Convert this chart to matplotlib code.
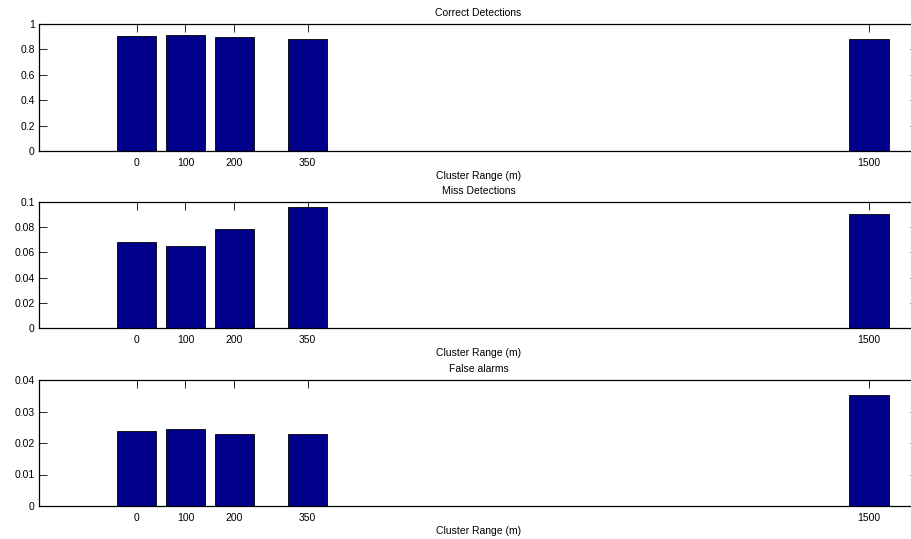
import numpy as np
import matplotlib.pyplot as plt
from matplotlib.ticker import FormatStrFormatter

cluster_range = [0, 100, 200, 350, 1500]               # x positions (m)
correct = [0.908, 0.913, 0.900, 0.882, 0.880]          # correct detections
miss = [0.0684, 0.0647, 0.0785, 0.0961, 0.0902]        # miss detections
false_alarms = [0.0239, 0.0245, 0.0230, 0.0229, 0.0352] # false alarms

titles = ["Correct Detections", "Miss Detections", "False alarms"]
series = [correct, miss, false_alarms]
y_tops = [1.0, 0.1, 0.04]
y_ticks = [np.arange(0, 1.01, 0.2), np.arange(0, 0.101, 0.02), np.arange(0, 0.041, 0.01)]

plt.rcParams['font.family'] = ['Liberation Sans', 'DejaVu Sans']

fig = plt.figure(figsize=(9.11, 5.39), dpi=100)

W, H = 911, 539
boxes = [(24, 151), (202, 328), (380, 506)]  # top, bottom in px
left_px, right_px = 39, 917.8

for i in range(3):
    top, bottom = boxes[i]
    ax = fig.add_axes([left_px / W, (H - bottom) / H,
                       (right_px - left_px) / W, (bottom - top) / H])
    ax.bar(cluster_range, series[i], width=80, color='#00008b',
           edgecolor='black', linewidth=0.6, zorder=3)
    ax.set_xlim(-200, 1600)
    ax.set_ylim(0, y_tops[i])
    ax.set_xticks(cluster_range)
    ax.set_yticks(y_ticks[i])
    ax.yaxis.set_major_formatter(FormatStrFormatter('%g'))
    ax.tick_params(direction='in', top=True, right=True, length=6, width=0.6,
                   labelsize=7.5, colors='black')
    ax.tick_params(axis='x', pad=5)
    ax.tick_params(axis='y', pad=3)
    for s in ax.spines.values():
        s.set_linewidth(0.9)
        s.set_zorder(4)
    ax.set_title(titles[i], fontsize=7.5, pad=6)
    ax.set_xlabel("Cluster Range (m)", fontsize=7.5, labelpad=2)

fig.savefig("out.png", dpi=100)
